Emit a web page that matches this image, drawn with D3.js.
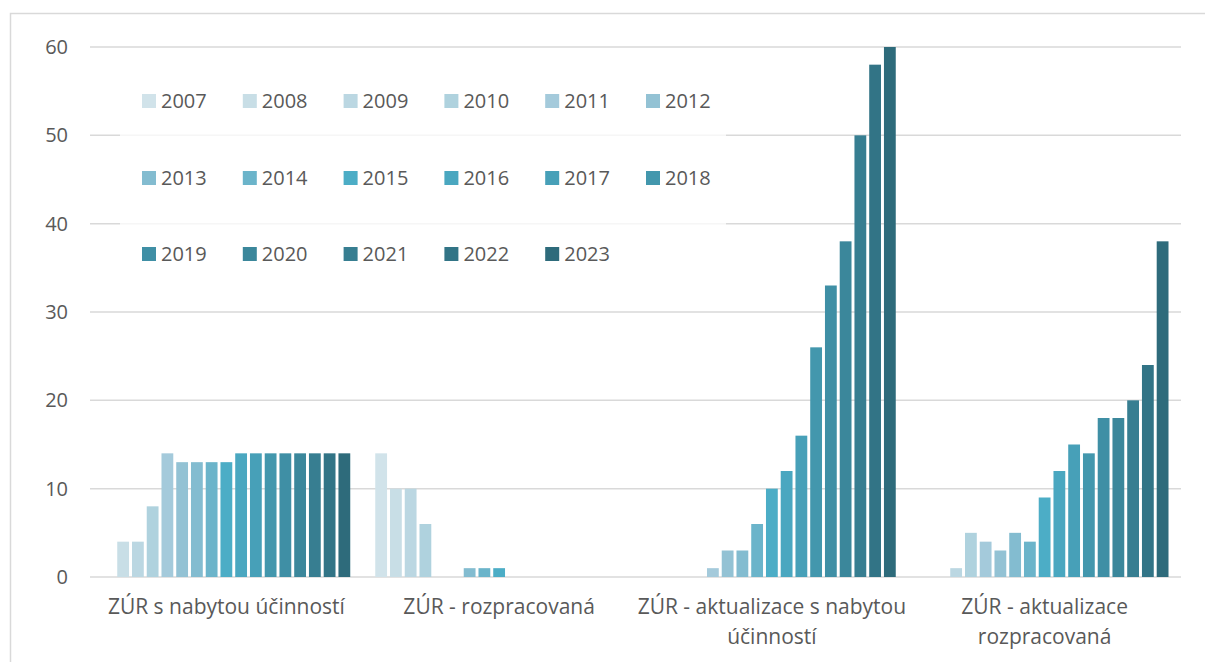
<!DOCTYPE html>
<html>
<head>
<meta charset="utf-8">
<script src="https://cdn.jsdelivr.net/npm/d3@7"></script>
<style>
  body { margin: 0; background: #fff; }
  text { font-family: "Open Sans", "Noto Sans", sans-serif; fill: #595959; }
</style>
</head>
<body>
<svg id="chart" width="1205" height="662"></svg>
<script>
// categories and years
const categories = [
  "ZÚR s nabytou účinností",
  "ZÚR - rozpracovaná",
  "ZÚR - aktualizace s nabytou účinností",
  "ZÚR - aktualizace rozpracovaná"
];
const categoryLines = [
  ["ZÚR s nabytou účinností"],
  ["ZÚR - rozpracovaná"],
  ["ZÚR - aktualizace s nabytou", "účinností"],
  ["ZÚR - aktualizace", "rozpracovaná"]
];
const years = ["2007", "2008", "2009", "2010", "2011", "2012", "2013", "2014", "2015",
  "2016", "2017", "2018", "2019", "2020", "2021", "2022", "2023"];

// values per category, one per year (2007..2023)
const zurUcinnost = [0, 4, 4, 8, 14, 13, 13, 13, 13, 14, 14, 14, 14, 14, 14, 14, 14];
const zurRozpracovana = [14, 10, 10, 6, 0, 0, 1, 1, 1, 0, 0, 0, 0, 0, 0, 0, 0];
const aktUcinnost = [0, 0, 0, 0, 1, 3, 3, 6, 10, 12, 16, 26, 33, 38, 50, 58, 60];
const aktRozpracovana = [0, 0, 1, 5, 4, 3, 5, 4, 9, 12, 15, 14, 18, 18, 20, 24, 38];
const seriesByCategory = [zurUcinnost, zurRozpracovana, aktUcinnost, aktRozpracovana];

const yTicks = [0, 10, 20, 30, 40, 50, 60];
const yearColors = ["#d1e3ea", "#c8dee6", "#bbd7e2", "#afd2de", "#a4cadb", "#93c2d4",
  "#83bcd0", "#6bb4ca", "#4cadc6", "#4aa7c0", "#47a0b8", "#4397ad", "#3f8fa5",
  "#3b879b", "#377e91", "#327486", "#2e6b7b"];

const svg = d3.select("#chart");

// outer frame
svg.append("rect")
  .attr("x", 10.5).attr("y", 13.5)
  .attr("width", 1220).attr("height", 700)
  .attr("fill", "#fff").attr("stroke", "#d9d9d9").attr("stroke-width", 1.5);

const x0 = d3.scaleBand().domain(categories).range([90, 1181]);
const gap = 12.5;
const x1 = d3.scaleBand().domain(years)
  .range([gap, x0.bandwidth() - gap])
  .paddingInner(0.2);
const y = d3.scaleLinear().domain([0, 60]).range([577, 47]);
const color = d3.scaleOrdinal().domain(years).range(yearColors);

// gridlines
svg.append("g")
  .selectAll("line")
  .data(yTicks)
  .join("line")
  .attr("x1", 90).attr("x2", 1181)
  .attr("y1", d => y(d)).attr("y2", d => y(d))
  .attr("stroke", "#d9d9d9").attr("stroke-width", 1.5);

// y labels
svg.append("g")
  .selectAll("text")
  .data(yTicks)
  .join("text")
  .attr("x", 68).attr("y", d => y(d))
  .attr("dy", "0.35em")
  .attr("text-anchor", "end")
  .style("font-size", "20px")
  .text(d => d);

// bars
const groups = svg.append("g")
  .selectAll("g")
  .data(categories)
  .join("g")
  .attr("transform", d => `translate(${x0(d)},0)`);

groups.selectAll("rect")
  .data((d, i) => years.map((yr, j) => ({ year: yr, value: seriesByCategory[i][j] })).filter(e => e.value > 0))
  .join("rect")
  .attr("x", d => x1(d.year))
  .attr("width", x1.bandwidth())
  .attr("y", d => y(d.value))
  .attr("height", d => y(0) - y(d.value))
  .attr("fill", d => color(d.year));

// category labels
const catLabels = svg.append("g")
  .selectAll("text")
  .data(categories)
  .join("text")
  .attr("x", d => x0(d) + x0.bandwidth() / 2)
  .attr("y", 607)
  .attr("text-anchor", "middle")
  .style("font-size", "21px");

catLabels.selectAll("tspan")
  .data((d, i) => categoryLines[i])
  .join("tspan")
  .attr("x", function () { return d3.select(this.parentNode).attr("x"); })
  .attr("dy", (d, i) => i === 0 ? "0.35em" : "30px")
  .text(d => d);

// legend
const legend = svg.append("g");
legend.append("rect")
  .attr("x", 120).attr("y", 60)
  .attr("width", 606).attr("height", 228)
  .attr("fill", "rgba(255,255,255,0.75)");

const rowY = [101, 178, 254];
const legendItems = legend.selectAll("g")
  .data(years)
  .join("g")
  .attr("transform", (d, i) => `translate(${142 + (i % 6) * 100.8},${rowY[Math.floor(i / 6)]})`);

legendItems.append("rect")
  .attr("x", 0).attr("y", -7)
  .attr("width", 14).attr("height", 14)
  .attr("fill", d => color(d));

legendItems.append("text")
  .attr("x", 19).attr("y", 0)
  .attr("dy", "0.35em")
  .style("font-size", "20px")
  .text(d => d);
</script>
</body>
</html>
